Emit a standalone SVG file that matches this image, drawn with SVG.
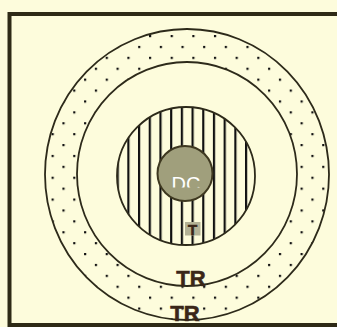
<svg xmlns="http://www.w3.org/2000/svg" width="337" height="327" viewBox="0 0 337 327">
<defs>
<style>
.ring{fill:none;stroke:#2d2a1a;stroke-width:1.8}
.lbl{font-family:"Liberation Sans",Arial,sans-serif;font-weight:bold;fill:#3a2618;stroke:#3a2618;stroke-width:0.6;text-anchor:middle}
</style>
<pattern id="dots" patternUnits="userSpaceOnUse" x="149" y="35" width="21.65" height="21.8">
<rect x="0" y="0" width="2.2" height="2.2" fill="#111"/>
<rect x="10.8" y="10.9" width="2.2" height="2.2" fill="#111"/>
</pattern>
<pattern id="hatch" patternUnits="userSpaceOnUse" x="127.3" y="0" width="10.7" height="20">
<rect x="0" y="0" width="2.2" height="20" fill="#111"/>
</pattern>
<clipPath id="dcclip"><rect x="150" y="170" width="70" height="17.5"/></clipPath>
</defs>
<rect width="337" height="327" fill="#fdfcdc"/>
<path d="M337,14 H9.5 V325 H337" fill="none" stroke="#2e2a16" stroke-width="4"/>
<g id="outer-ring">
<path d="M45,174.5 a142,145.5 0 1 0 284,0 a142,145.5 0 1 0 -284,0 Z M77,174 a110,112 0 1 1 220,0 a110,112 0 1 1 -220,0 Z" fill="url(#dots)" fill-rule="evenodd"/>
<ellipse class="ring" cx="187" cy="174.5" rx="142" ry="145.5"/>
<ellipse class="ring" cx="187" cy="174" rx="110" ry="112"/>
</g>
<g id="hatched">
<circle cx="186" cy="176" r="69" fill="url(#hatch)"/>
<circle class="ring" cx="186" cy="176" r="69"/>
</g>
<g id="dc">
<circle cx="185" cy="173.5" r="27.5" fill="#a09f7c" stroke="#3e3820" stroke-width="2"/>
<text x="186" y="191" clip-path="url(#dcclip)" font-family="'Liberation Sans',Arial,sans-serif" font-size="20" fill="#ffffff" text-anchor="middle">DC</text>
</g>
<g id="label-t">
<rect x="185" y="222" width="15.5" height="13.5" fill="#b3b296"/>
<text class="lbl" x="192.7" y="234.5" font-size="15">T</text>
</g>
<g id="label-tr1"><text class="lbl" x="191" y="286" font-size="22">TR</text></g>
<g id="label-tr2"><text class="lbl" x="185" y="320.5" font-size="22">TR</text></g>
</svg>
